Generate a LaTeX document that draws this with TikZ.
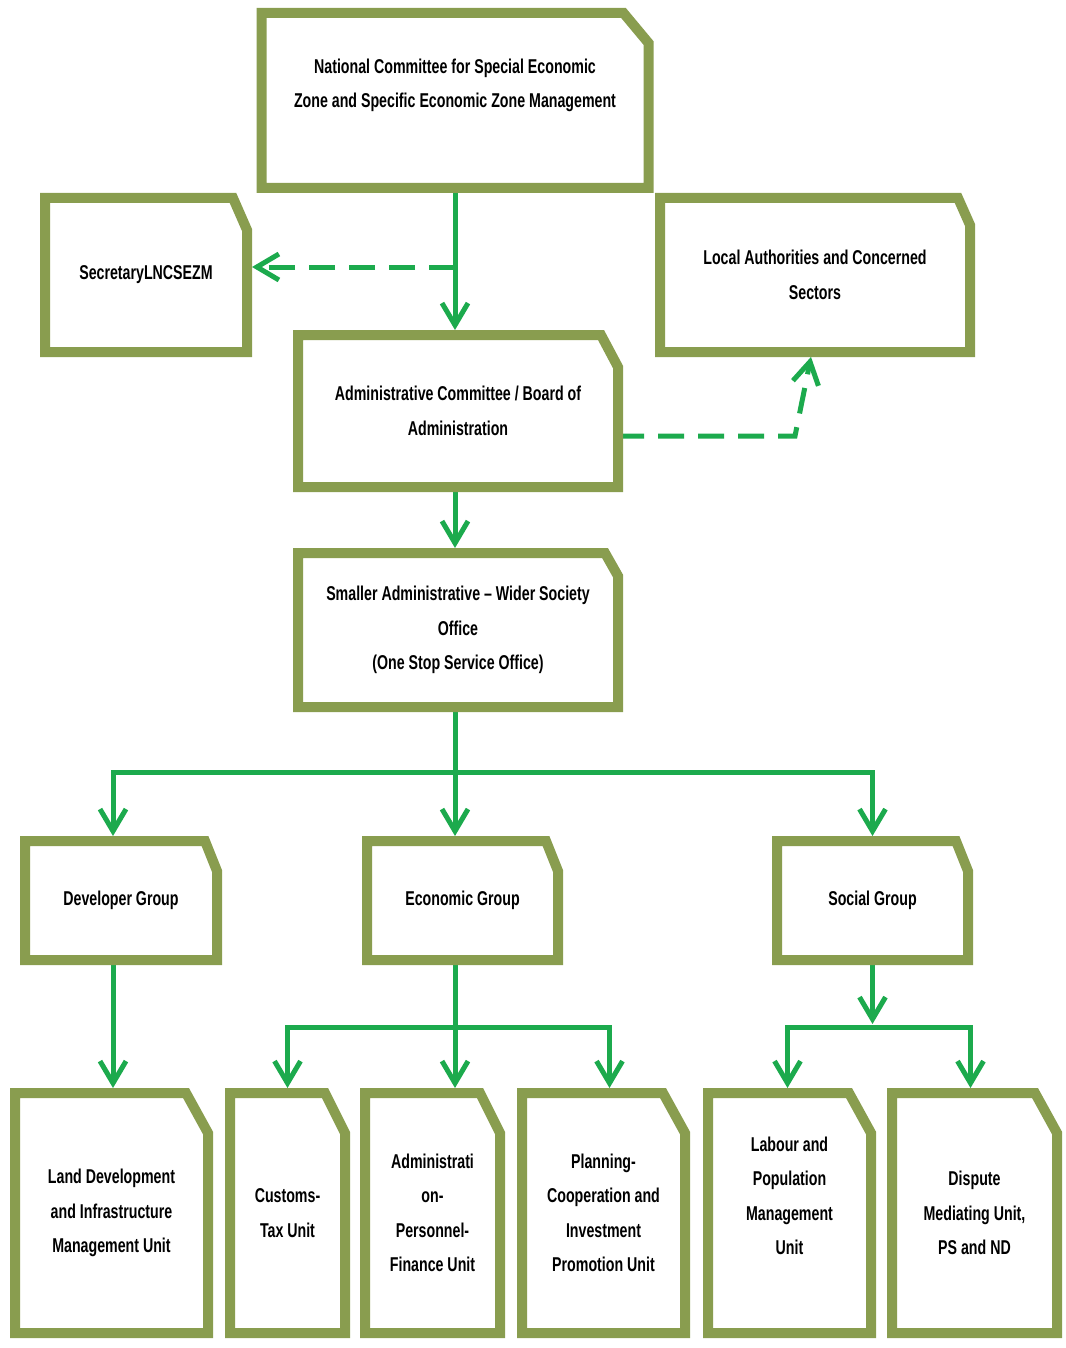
\documentclass[tikz,border=0pt]{standalone}
\usepackage{fontspec}
\setmainfont{Liberation Sans}[FakeStretch=0.71]
\usetikzlibrary{arrows.meta}
\definecolor{boxgreen}{RGB}{137,157,79}
\definecolor{arrgreen}{RGB}{28,170,77}
\tikzset{
  unit/.style 2 args={rectangle, fill=white, inner sep=0pt, outer sep=0pt, align=center,
    font=\fontsize{20}{34.5}\selectfont\bfseries, minimum width=#1, minimum height=#2},
  rim/.style={draw=boxgreen, line width=10pt, line join=miter},
  arr/.style={draw=arrgreen, line width=5pt, shorten >=5pt, -{Straight Barb[length=22pt,width=26pt]}},
  dasharr/.style={arr, dash pattern=on 26pt off 14pt}
}
\begin{document}
\begin{tikzpicture}[x=1pt,y=-1pt]
  \useasboundingbox (0,0) rectangle (1065,1348);
  % top levels
  \node[unit={387}{175}] (nat) at (455,100.5)
    {National Committee for Special Economic\\Zone and Specific Economic Zone Management\\\mbox{}};
  \node[unit={202}{154}] (sec) at (146,275) {SecretaryLNCSEZM};
  \node[unit={310}{154}] (loc) at (815,275) {Local Authorities and Concerned\\Sectors};
  \node[unit={320}{152}] (adm) at (458,411) {Administrative Committee / Board of\\Administration};
  \node[unit={320}{154}] (osso) at (458,630)
    {Smaller Administrative -- Wider Society\\Office\\(One Stop Service Office)};
  % groups
  \node[unit={192}{119}] (dev) at (121,900.5) {Developer Group};
  \node[unit={191}{119}] (eco) at (462.5,900.5) {Economic Group};
  \node[unit={191}{119}] (soc) at (872.5,900.5) {Social Group};
  % units
  \node[unit={193}{240}] (land) at (111.5,1213) {Land Development\\and Infrastructure\\Management Unit};
  \node[unit={115}{240}] (cus) at (287.5,1213) {Customs-\\Tax Unit};
  \node[unit={135}{240}] (per) at (432.5,1213) {Administrati\\on-\\Personnel-\\Finance Unit};
  \node[unit={163}{240}] (pla) at (603.5,1213) {Planning-\\Cooperation and\\Investment\\Promotion Unit};
  \node[unit={163}{240}] (lab) at (789.5,1213) {Labour and\\Population\\Management\\Unit\\\mbox{}};
  \node[unit={165}{240}] (dis) at (974.5,1213) {Dispute\\Mediating Unit,\\PS and ND};
  % junction points
  \coordinate (split) at (455,267);
  \coordinate (bend) at (795,436);
  \coordinate (hub) at (455,772);
  \coordinate (ehub) at (455,1027);
  \coordinate (shub) at (872.5,1027);
  % connectors
  \draw[arr] (nat.south) -- (nat.south |- adm.north);
  \draw[dasharr] (split) -- (split -| sec.east);
  \draw[dasharr] ([yshift=-25pt]adm.east) -- (bend) -- ([xshift=-3pt]loc.south);
  \draw[arr] ([xshift=-3pt]adm.south) -- ([xshift=-3pt]osso.north);
  \draw[arr] ([xshift=-3pt]osso.south) -- ([xshift=-3pt]osso.south |- eco.north);
  \draw[arr] (hub) -| ([xshift=-8pt]dev.north);
  \draw[arr] (hub) -| (soc.north);
  \draw[arr] ([xshift=-8pt]dev.south) -- ([xshift=-8pt]dev.south |- land.north);
  \draw[arr] ([xshift=-7.5pt]eco.south) -- ([xshift=-7.5pt]eco.south |- per.north);
  \draw[arr] (ehub) -| (cus.north);
  \draw[arr] (ehub) -| ([xshift=6pt]pla.north);
  \draw[arr, shorten >=0pt] (soc.south) -- ([yshift=3pt]shub);
  \draw[arr] (shub) -| ([xshift=-2pt]lab.north);
  \draw[arr] (shub) -| ([xshift=-4pt]dis.north);
  % box rims with the cut corner
  \foreach \n/\cx/\cy in {nat/25/30, sec/14/32, loc/12/27, adm/17/32, osso/13/23,
      dev/12/30, eco/12/30, soc/12/30, land/22/40, cus/20/40, per/20/40,
      pla/22/40, lab/22/40, dis/22/40}
    \draw[rim] (\n.north west) -- ([xshift=-\cx pt]\n.north east)
      -- ([yshift=-\cy pt]\n.north east) -- (\n.south east) -- (\n.south west) -- cycle;
\end{tikzpicture}
\end{document}
